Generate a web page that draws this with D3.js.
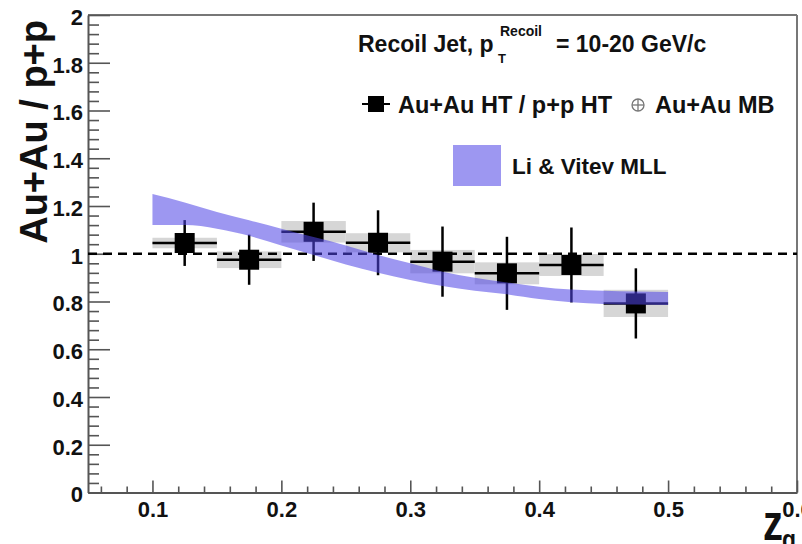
<!DOCTYPE html>
<html>
<head>
<meta charset="utf-8">
<script src="https://cdn.jsdelivr.net/npm/d3@7"></script>
<style>
body { margin: 0; background: #fff; }
svg text { font-family: "Liberation Sans", Arial, Helvetica, sans-serif; font-weight: bold; fill: #111; }
</style>
</head>
<body>
<svg id="chart" width="802" height="544"></svg>
<script>
// Au+Au HT / p+p HT, recoil jet, bins of z_g
var zg = [0.125, 0.175, 0.225, 0.275, 0.325, 0.375, 0.425, 0.475];
var binHalf = 0.025;
var ratio = [1.045, 0.975, 1.092, 1.046, 0.967, 0.918, 0.953, 0.792];
var statErr = [0.096, 0.105, 0.122, 0.136, 0.147, 0.153, 0.157, 0.147];
var sysErr = [0.022, 0.035, 0.045, 0.040, 0.049, 0.046, 0.046, 0.057];

// Li & Vitev MLL band
var zgTheory = [0.1, 0.125, 0.15, 0.175, 0.2, 0.225, 0.25, 0.275, 0.3, 0.325, 0.35, 0.375, 0.4, 0.425, 0.45, 0.475, 0.5];
var theoryHi = [1.25, 1.215, 1.175, 1.14, 1.105, 1.07, 1.035, 0.995, 0.96, 0.925, 0.9, 0.88, 0.862, 0.85, 0.845, 0.842, 0.84];
var theoryLo = [1.12, 1.12, 1.105, 1.075, 1.035, 0.995, 0.955, 0.92, 0.89, 0.865, 0.845, 0.83, 0.81, 0.797, 0.79, 0.787, 0.785];

var xTicks = [0.1, 0.2, 0.3, 0.4, 0.5, 0.6];
var yTicks = [0, 0.2, 0.4, 0.6, 0.8, 1, 1.2, 1.4, 1.6, 1.8, 2];

var padL = 88, padR = 797, padT = 15, padB = 492.5;
var bandColor = "rgb(80,70,230)", bandOpacity = 0.56;
var axisColor = "#555";

var svg = d3.select("#chart");

var x = d3.scaleLinear().domain([0.05, 0.6]).range([padL, padR]);
var y = d3.scaleLinear().domain([0, 2]).range([padB, padT]);

// frame top / right
svg.append("line").attr("x1", padL).attr("x2", padR).attr("y1", padT).attr("y2", padT)
    .style("stroke", "#777").style("stroke-width", 2);
svg.append("line").attr("x1", padR).attr("x2", padR).attr("y1", padT).attr("y2", padB)
    .style("stroke", "#777").style("stroke-width", 2);

// minor ticks
var yMinor = d3.range(0, 2.001, 0.04).filter(function(d) { return Math.abs(d * 5 - Math.round(d * 5)) > 1e-6; });
var xMinor = d3.range(0.06, 0.6, 0.02).filter(function(d) { return Math.abs(d * 10 - Math.round(d * 10)) > 1e-6; });

svg.append("g").attr("transform", "translate(" + padL + ",0)")
    .call(d3.axisLeft(y).tickValues(yMinor).tickSizeInner(-11).tickSizeOuter(0).tickFormat(""))
    .call(function(g) { g.select(".domain").remove(); });
svg.append("g").attr("transform", "translate(0," + padB + ")")
    .call(d3.axisBottom(x).tickValues(xMinor).tickSizeInner(-6).tickSizeOuter(0).tickFormat(""))
    .call(function(g) { g.select(".domain").remove(); });

var yAxis = svg.append("g").attr("transform", "translate(" + padL + ",0)")
    .call(d3.axisLeft(y).tickValues(yTicks).tickSizeInner(-22).tickSizeOuter(0).tickPadding(5).tickFormat(d3.format("~g")));
var xAxis = svg.append("g").attr("transform", "translate(0," + padB + ")")
    .call(d3.axisBottom(x).tickValues(xTicks).tickSizeInner(-12).tickSizeOuter(0).tickPadding(9).tickFormat(d3.format("~g")));

svg.selectAll(".tick line").style("stroke", axisColor).style("stroke-width", 1.6);
svg.selectAll(".domain").style("stroke", axisColor).style("stroke-width", 2);
yAxis.selectAll("text").attr("dy", "0.42em");
[xAxis, yAxis].forEach(function(a) {
    a.attr("font-family", null).attr("font-size", null);
    a.selectAll(".tick text").attr("font-size", 22).style("font-size", "22px").style("fill", "#111");
});

// systematic boxes
svg.append("g").selectAll("rect")
    .data(zg)
    .enter().append("rect")
    .attr("x", function(d) { return x(d - binHalf); })
    .attr("width", function(d) { return x(d + binHalf) - x(d - binHalf); })
    .attr("y", function(d, i) { return y(ratio[i] + sysErr[i]); })
    .attr("height", function(d, i) { return y(ratio[i] - sysErr[i]) - y(ratio[i] + sysErr[i]); })
    .style("fill", "#d6d6d6");

// unity line
svg.append("line")
    .attr("x1", x(0.05)).attr("x2", x(0.6)).attr("y1", y(1)).attr("y2", y(1))
    .style("stroke", "#000").style("stroke-width", 2.5).style("stroke-dasharray", "9,6");

// points with errors
var pts = svg.append("g");
pts.selectAll("line.h").data(zg).enter().append("line")
    .attr("class", "h")
    .attr("x1", function(d) { return x(d - binHalf); })
    .attr("x2", function(d) { return x(d + binHalf); })
    .attr("y1", function(d, i) { return y(ratio[i]); })
    .attr("y2", function(d, i) { return y(ratio[i]); })
    .style("stroke", "#000").style("stroke-width", 2.5);
pts.selectAll("line.v").data(zg).enter().append("line")
    .attr("class", "v")
    .attr("x1", function(d) { return x(d); })
    .attr("x2", function(d) { return x(d); })
    .attr("y1", function(d, i) { return y(ratio[i] + statErr[i]); })
    .attr("y2", function(d, i) { return y(ratio[i] - statErr[i]); })
    .style("stroke", "#000").style("stroke-width", 2.5);
pts.selectAll("rect").data(zg).enter().append("rect")
    .attr("x", function(d) { return x(d) - 10; })
    .attr("y", function(d, i) { return y(ratio[i]) - 10; })
    .attr("width", 20).attr("height", 20)
    .style("fill", "#000");

// theory band on top
var area = d3.area()
    .x(function(d, i) { return x(zgTheory[i]); })
    .y0(function(d, i) { return y(theoryLo[i]); })
    .y1(function(d, i) { return y(theoryHi[i]); })
    .curve(d3.curveMonotoneX);
svg.append("path").datum(zgTheory)
    .attr("d", area)
    .style("fill", bandColor).style("opacity", bandOpacity);

// legend
var lg = svg.append("g");
lg.append("text").attr("x", 358).attr("y", 52).style("font-size", "23px").text("Recoil Jet, p");
lg.append("text").attr("x", 500).attr("y", 36).style("font-size", "14px").text("Recoil");
lg.append("text").attr("x", 498).attr("y", 63).style("font-size", "13px").text("T");
lg.append("text").attr("x", 556).attr("y", 52).style("font-size", "23px").text("= 10-20 GeV/c");

lg.append("line").attr("x1", 362).attr("x2", 390).attr("y1", 104).attr("y2", 104)
    .style("stroke", "#000").style("stroke-width", 2);
lg.append("rect").attr("x", 368).attr("y", 96).attr("width", 16).attr("height", 16).style("fill", "#000");
lg.append("text").attr("x", 398).attr("y", 113).style("font-size", "23.5px").text("Au+Au HT / p+p HT");
lg.append("circle").attr("cx", 638).attr("cy", 105).attr("r", 6)
    .style("fill", "none").style("stroke", "#777").style("stroke-width", 1.3);
lg.append("line").attr("x1", 632).attr("x2", 644).attr("y1", 105).attr("y2", 105)
    .style("stroke", "#777").style("stroke-width", 1.3);
lg.append("line").attr("x1", 638).attr("x2", 638).attr("y1", 99).attr("y2", 111)
    .style("stroke", "#777").style("stroke-width", 1.3);
lg.append("text").attr("x", 655).attr("y", 113).style("font-size", "23.5px").text("Au+Au MB");

lg.append("rect").attr("x", 453).attr("y", 145).attr("width", 48).attr("height", 41)
    .style("fill", bandColor).style("opacity", bandOpacity);
lg.append("text").attr("x", 512).attr("y", 174).style("font-size", "22.5px").text("Li & Vitev MLL");

// axis titles
svg.append("text")
    .attr("transform", "translate(47,20) rotate(-90)")
    .attr("text-anchor", "end")
    .style("font-size", "38px")
    .text("Au+Au / p+p");
svg.append("text").attr("x", 763).attr("y", 540)
    .attr("textLength", 20).attr("lengthAdjust", "spacingAndGlyphs")
    .style("font-size", "50px").text("z");
svg.append("text").attr("x", 782).attr("y", 549)
    .attr("textLength", 14).attr("lengthAdjust", "spacingAndGlyphs")
    .style("font-size", "28px").text("g");
</script>
</body>
</html>
